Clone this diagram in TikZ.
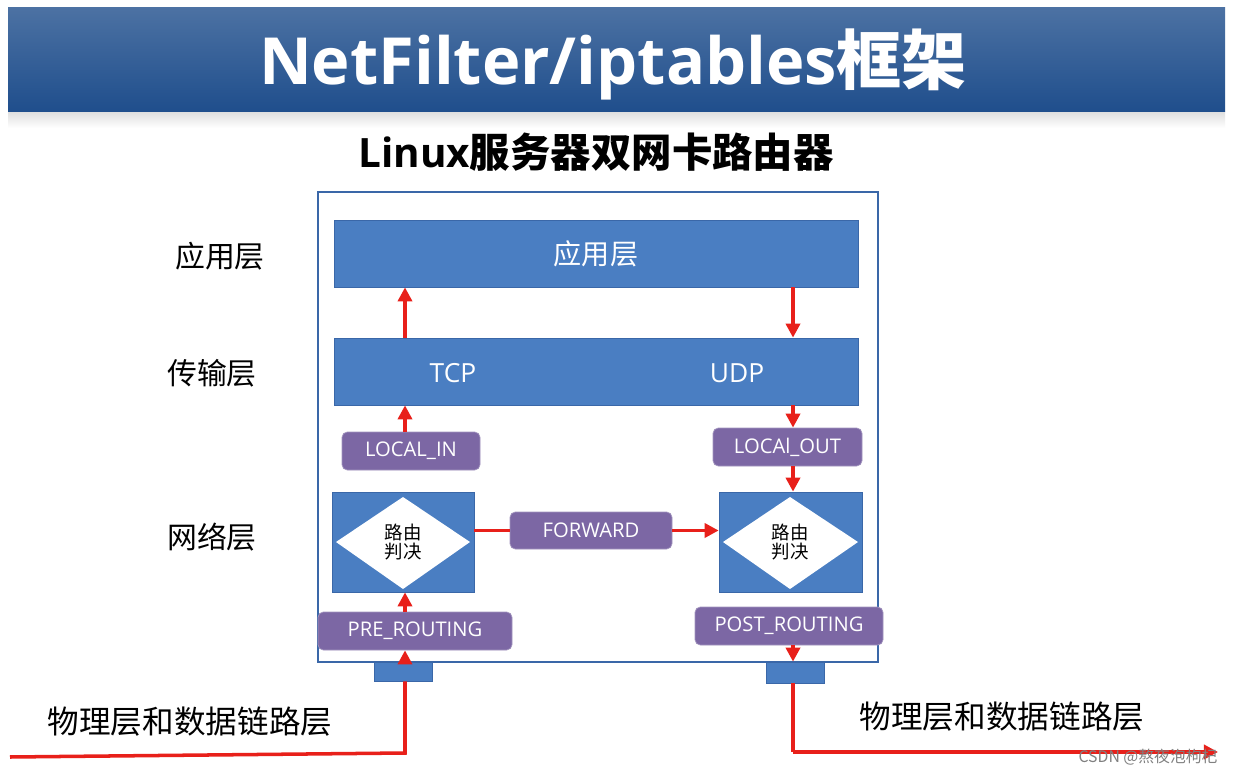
\documentclass[tikz,border=0pt]{standalone}
\usepackage{fontspec}
\setmainfont{Open Sans}
\newfontfamily\cjk{Noto Sans CJK SC}
\usetikzlibrary{arrows.meta}
\definecolor{bar}{HTML}{4A7EC2}
\definecolor{barline}{HTML}{3A67A8}
\definecolor{purp}{HTML}{7C67A4}
\definecolor{banner}{HTML}{1F4E8C}
\definecolor{arr}{HTML}{E8201A}
\begin{document}
\begin{tikzpicture}[x=0.02cm,y=-0.02cm,
 bar/.style={draw=barline,fill=bar,text=white,font=\fontsize{15}{15}\selectfont},
 tag/.style={draw=purp!70!white,fill=purp,text=white,rounded corners=3pt,font=\fontsize{11.5}{11.5}\selectfont,inner sep=0pt},
 lbl/.style={font=\cjk\fontsize{17}{17}\selectfont},
 red/.style={draw=arr,line width=2pt},
 ar/.style={red,-{Triangle[length=8pt,width=8pt]}}]
\useasboundingbox (0,0) rectangle (1248,777);
\fill[white] (0,0) rectangle (1248,777);
\fill[top color=gray!25,bottom color=white] (8,112) rectangle (1225,128);
\fill[top color=banner!80!white,bottom color=banner] (8,8) rectangle (1225,112);
\node[text=white,font=\bfseries\fontsize{37}{37}\selectfont] (title) at (613,64) {NetFilter/iptables{\cjk 框架}};
\node[font=\bfseries\fontsize{23}{23}\selectfont] (sub) at (596,152) {Linux{\cjk 服务器双网卡路由器}};
% outer box
\draw[barline,fill=white,line width=0.8pt] (318,192) rectangle (878,662);
\node[bar,minimum width=524*0.02cm,minimum height=67*0.02cm,font=\cjk\fontsize{16}{16}\selectfont] (app) at (596,253.5) {应用层};
\node[bar,minimum width=524*0.02cm,minimum height=67*0.02cm] (tr) at (596,371.5) {};
\node[text=white,font=\fontsize{15}{15}\selectfont] (tcp) at (453,373) {TCP};
\node[text=white,font=\fontsize{15}{15}\selectfont] (udp) at (737,373) {UDP};
\node[lbl] (l1) at (220,256) {应用层};
\node[lbl] (l2) at (212,373) {传输层};
\node[lbl] (l3) at (212,537) {网络层};
% routing boxes
\node[bar,minimum width=142*0.02cm,minimum height=100*0.02cm] (rl) at (403,542) {};
\node[bar,minimum width=143*0.02cm,minimum height=100*0.02cm] (rr) at (790.5,542) {};
\fill[white] (336,542) -- (403,497) -- (470,542) -- (403,589) -- cycle;
\fill[white] (723,542) -- (790,497) -- (858,542) -- (790,589) -- cycle;
\node[align=center,font=\cjk\fontsize{10.5}{11}\selectfont] (dl) at (403,542) {路由\\判决};
\node[align=center,font=\cjk\fontsize{10.5}{11}\selectfont] (dr) at (790,542) {路由\\判决};
% tags
\node[tag,minimum width=138*0.02cm,minimum height=38*0.02cm] (lin) at (411,451) {LOCAL\_IN};
\node[tag,minimum width=149*0.02cm,minimum height=38*0.02cm] (lout) at (787.5,447) {LOCAl\_OUT};
\node[tag,minimum width=162*0.02cm,minimum height=37*0.02cm] (fwd) at (591,530.5) {FORWARD};
\node[tag,minimum width=194*0.02cm,minimum height=38*0.02cm] (pre) at (415,631) {PRE\_ROUTING};
\node[tag,minimum width=188*0.02cm,minimum height=38*0.02cm] (post) at (789,626) {POST\_ROUTING};
% nics
\node[bar,minimum width=58*0.02cm,minimum height=19*0.02cm] (nl) at (403,671.5) {};
\node[bar,minimum width=58*0.02cm,minimum height=21*0.02cm] (nr) at (795,672.5) {};
\coordinate (inS) at (10,757);
\coordinate (inC) at (405,753);
\coordinate (outC) at (793,752);
\coordinate (outE) at (1218,752);
% red arrows
\draw[red] (inS) -- (inC) -- (nl.south-|inC);
\draw[ar] (nl.north-|inC) -- (pre.south-|inC);
\draw[ar] (pre.north-|inC) -- (rl.south-|inC);
\draw[ar] (lin.north-|inC) -- (tr.south-|inC);
\draw[ar] (tr.north-|inC) -- (app.south-|inC);
\draw[ar] (app.south-|outC) -- (tr.north-|outC);
\draw[ar] (tr.south-|outC) -- (lout.north-|outC);
\draw[ar] (lout.south-|outC) -- (rr.north-|outC);
\draw[ar] (post.south-|outC) -- (nr.north-|outC);
\draw[red] (nr.south-|outC) -- (outC);
\draw[ar] (outC) -- (outE);
\draw[red] (rl.east|-fwd) -- (fwd.west);
\draw[ar] (fwd.east) -- (rr.west|-fwd);
\node[lbl,font=\cjk\fontsize{18}{18}\selectfont] (b1) at (190,722) {物理层和数据链路层};
\node[lbl,font=\cjk\fontsize{18}{18}\selectfont] (b2) at (1002,717) {物理层和数据链路层};
\node[text=gray,font=\cjk\fontsize{9}{9}\selectfont] (wm) at (1148,757) {CSDN @熬夜泡枸杞};
\end{tikzpicture}
\end{document}
